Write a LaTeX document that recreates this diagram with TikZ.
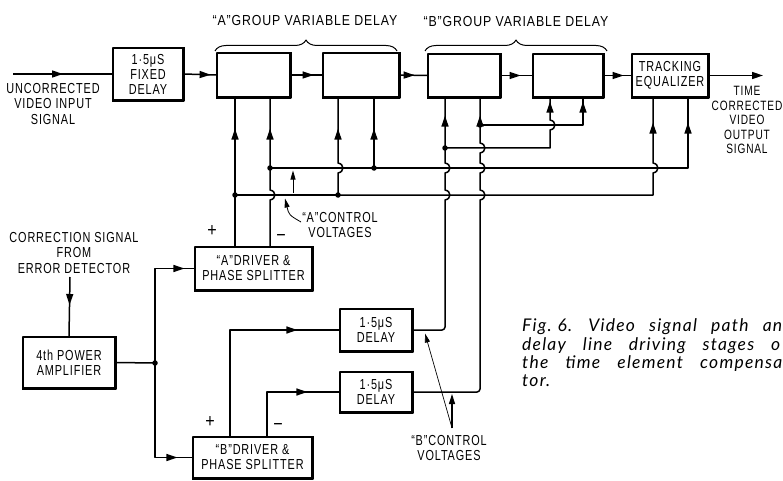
\documentclass[tikz,border=0pt]{standalone}
\usepackage{fontspec}
\newfontfamily\lblfont{Liberation Sans}[FakeStretch=0.75,LetterSpace=6]
\newfontfamily\hdrfont{Liberation Sans}[FakeStretch=0.85,LetterSpace=6]
\newfontfamily\capfont{Lato}[LetterSpace=7]
\usetikzlibrary{arrows.meta,decorations.markings,decorations.pathreplacing}
\newcommand{\hopup}[2]{-- (#1,#2+5) .. controls (#1+6.5,#2+4) and (#1+6.5,#2-4) .. (#1,#2-5)}
\begin{document}
\begin{tikzpicture}[x=1pt,y=-1pt,line join=round,
  wire/.style={line width=1.5pt},
  blk/.style={draw,line width=1.2pt,inner sep=1pt,align=center,font=\lblfont\fontsize{14.5}{15}\selectfont},
  lbl/.style={align=center,inner sep=0pt,font=\lblfont\fontsize{14.5}{15.5}\selectfont},
  sgn/.style={inner sep=0pt,font=\hdrfont\fontsize{19}{19}\selectfont},
  hdr/.style={inner sep=0pt,font=\hdrfont\fontsize{14.5}{15}\selectfont},
  capt/.style={anchor=base west,inner sep=0pt,font=\capfont\itshape\fontsize{17.5}{18}\selectfont},
  dot/.style={circle,fill,inner sep=0pt,minimum size=5.5pt},
  ah/.style={postaction={decorate,decoration={markings,mark=at position #1 with {\arrow{Triangle[length=11pt,width=7pt]}}}}},
  thinarrow/.style={line width=0.8pt,-{Triangle[length=9pt,width=5pt]}},
  brc/.style={line width=1pt,decorate,decoration={brace,amplitude=11pt}},
]
\useasboundingbox (0,0) rectangle (783,481);

% blocks
\node[blk,minimum width=70pt,minimum height=52pt] (fd) at (148,74) {1·5μS\\FIXED\\DELAY};
\node[blk,minimum width=73pt,minimum height=44pt] (a1) at (253.5,75) {};
\node[blk,minimum width=76pt,minimum height=44pt] (a2) at (361,75) {};
\node[blk,minimum width=72pt,minimum height=43pt] (b1) at (464,75.5) {};
\node[blk,minimum width=70pt,minimum height=43pt] (b2) at (568,75.5) {};
\node[blk,minimum width=76pt,minimum height=43pt] (te) at (670,75.5) {TRACKING\\EQUALIZER};
\node[blk,minimum width=92pt,minimum height=51pt] (pa) at (69,362.5) {4th POWER\\AMPLIFIER};
\node[blk,minimum width=117pt,minimum height=43pt] (ad) at (253.5,268.5) {“A”DRIVER \&\\PHASE SPLITTER};
\node[blk,minimum width=119pt,minimum height=41pt] (bd) at (252.5,457.5) {“B”DRIVER \&\\PHASE SPLITTER};
\node[blk,minimum width=72pt,minimum height=42pt] (dl1) at (376,330) {1·5μS\\DELAY};
\node[blk,minimum width=72pt,minimum height=40pt] (dl2) at (376,392) {1·5μS\\DELAY};
\foreach \n in {fd,a1,a2,b1,b2,te,pa,ad,bd,dl1,dl2}
  \draw[line width=2.2pt] (\n.north east) -- (\n.south east) -- (\n.south west);

% labels
\node[lbl] (inlbl) at (53,104) {UNCORRECTED\\VIDEO INPUT\\SIGNAL};
\node[lbl,font=\lblfont\fontsize{13.5}{14.5}\selectfont] (outlbl) at (747,120) {TIME\\CORRECTED\\VIDEO\\OUTPUT\\SIGNAL};
\node[lbl] (cslbl) at (74,253) {CORRECTION SIGNAL\\FROM\\ERROR DETECTOR};
\node[hdr] (ha) at (305,21) {“A”GROUP VARIABLE DELAY};
\node[hdr] (hb) at (516,22) {“B”GROUP VARIABLE DELAY};
\node[lbl] (acv) at (340,225) {“A”CONTROL\\VOLTAGES};
\node[lbl] (bcv) at (449,448) {“B”CONTROL\\VOLTAGES};
\node[sgn] (ap) at (212,231) {+};
\node[sgn] (am) at (281,238) {−};
\node[sgn] (bp) at (210,422) {+};
\node[sgn] (bm) at (278,427) {−};

% caption
\node[capt] (c1) at (522,331) {\makebox[260pt][s]{Fig.\kern6pt 6.\kern16pt Video signal path an}};
\node[capt] (c2) at (522,350) {\makebox[258pt][s]{delay line driving stages o}};
\node[capt] (c3) at (522,368) {\makebox[260pt][s]{the time element compensa}};
\node[capt] (c4) at (522,386) {tor.};

% braces
\draw[brc] (215,51) -- (397,51);
\draw[brc] (425,51) -- (607,51);

% junctions and corners
\node[dot] (jAp) at (235,195) {};
\node[dot] (jAm) at (270,168) {};
\node[dot] (jA2l) at (338,195) {};
\node[dot] (jA2r) at (374,168) {};
\node[dot] (jBp) at (445,148) {};
\node[dot] (jBm) at (480,125) {};
\node[dot] (jPA) at (155,363) {};
\coordinate (teL) at (653,195);
\coordinate (teR) at (688,168);
\coordinate (cB2l) at (550,148);
\coordinate (cB2r) at (583,125);
\coordinate (cBp) at (445,330);
\coordinate (cBm) at (480,392);
\coordinate (cDp) at (230,330);
\coordinate (cDm) at (267,392);
\coordinate (in) at (13,74);
\coordinate (out) at (763,75.5);
\coordinate (cs) at (70,277);

% signal path
\draw[wire,ah=50pt] (in) -- (fd.west);
\draw[wire,ah=27pt] (fd.east) -- (a1.west);
\draw[wire,ah=23pt] (a1.east) -- (a2.west);
\draw[wire,ah=15pt] (a2.east) -- (b1.west);
\draw[wire,ah=20pt] (b1.east) -- (b2.west);
\draw[wire,ah=20pt] (b2.east) -- (te.west);
\draw[wire,-{Triangle[length=11pt,width=7pt]}] (te.east) -- (out);

% correction / power amp
\draw[wire,ah=28pt] (cs) -- (pa.north);
\draw[wire] (pa.east) -- (jPA.center);
\draw[wire,ah=-10pt] (jPA.center) -- (jPA.center |- ad.west) -- (ad.west);
\draw[wire,ah=-15pt] (jPA.center) -- (jPA.center |- bd.west) -- (bd.west);

% A driver outputs
\draw[wire,ah=-31pt] (ad.north -| jAp) -- (jAp.center) -- (jAp |- a1.south);
\draw[wire,ah=-31pt] (ad.north -| jAm) \hopup{270}{195} -- (jAm.center) -- (jAm |- a1.south);
\draw[wire,ah=-31pt] (jA2l.center) \hopup{338}{168} -- (jA2l |- a2.south);
\draw[wire,ah=-31pt] (jA2r.center) -- (jA2r |- a2.south);
\draw[wire] (jAp.center) -- (jA2l.center);
\draw[wire,ah=-25pt] (jA2l.center) -- (teL) \hopup{653}{168} -- (teL |- te.south);
\draw[wire] (jAm.center) -- (jA2r.center);
\draw[wire,ah=-25pt] (jA2r.center) -- (teR) -- (teR |- te.south);

% B driver outputs
\draw[wire,ah=-42pt] (bd.north -| cDp) -- (cDp) -- (dl1.west);
\draw[wire,ah=-32pt] (bd.north -| cDm) -- (cDm) -- (dl2.west);
\draw[wire,ah=-18pt] [rounded corners=3pt] (dl1.east) -- (cBp) -- (445,215) [sharp corners] \hopup{445}{195} \hopup{445}{168} -- (jBp.center) -- (jBp |- b1.south);
\draw[wire,ah=-18pt] [rounded corners=3pt] (dl2.east) -- (cBm) -- (480,215) [sharp corners] \hopup{480}{195} \hopup{480}{168} \hopup{480}{148} -- (jBm.center) -- (jBm |- b1.south);
\draw[wire,ah=-4pt] (jBp.center) -- (cB2l) \hopup{550}{125} -- (cB2l |- b2.south);
\draw[wire,ah=-4pt] (jBm.center) -- (cB2r) -- (cB2r |- b2.south);

% control voltage pointers
\coordinate (aa1) at (293,193);
\coordinate (aa1t) at (293,170.5);
\coordinate (aa2) at (301,222);
\coordinate (aa2t) at (285,198.5);
\draw[thinarrow] (aa1) -- (aa1t);
\draw[thinarrow] (aa2) .. controls (289,215) .. (aa2t);
\coordinate (bb) at (452,428);
\coordinate (bbt1) at (425,333.5);
\coordinate (bbt2) at (452,394);
\draw[line width=0.7pt,-{Triangle[length=9pt,width=5pt]}] (bb) -- (bbt1);
\draw[line width=1.2pt,-{Triangle[length=10pt,width=6pt]}] (bb) -- (bbt2);
\end{tikzpicture}
\end{document}
